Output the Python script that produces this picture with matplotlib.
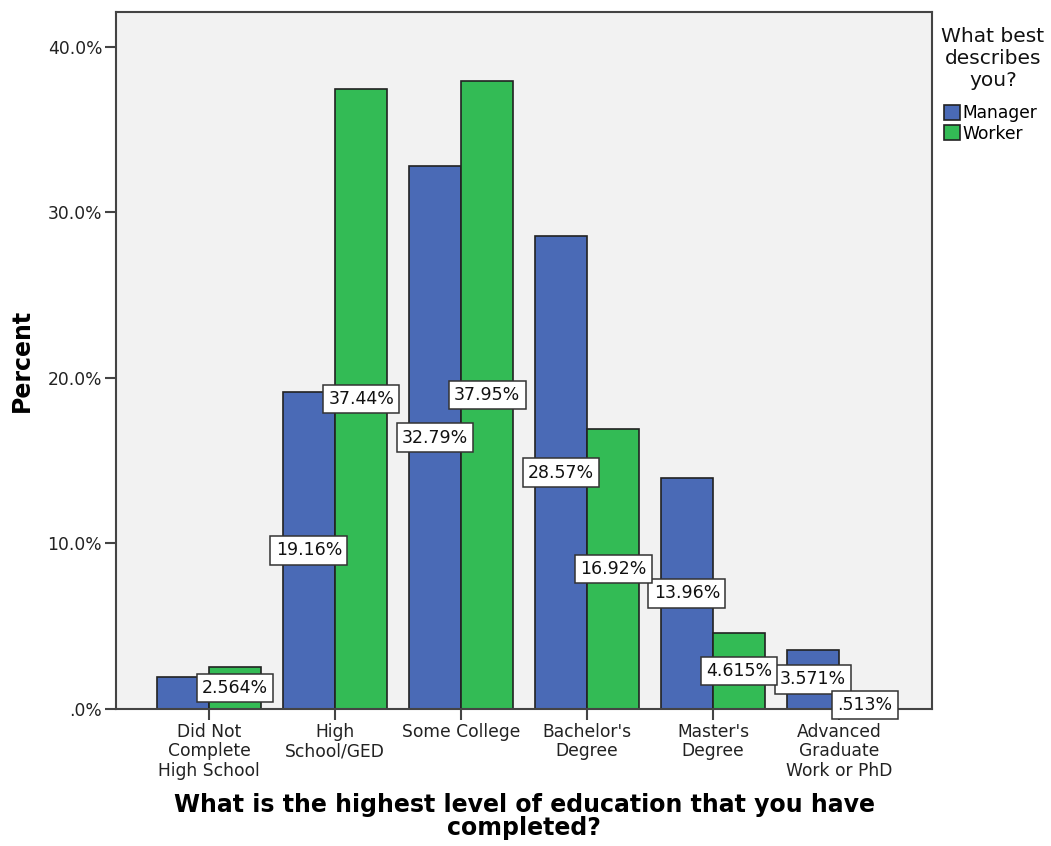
import matplotlib
matplotlib.use("Agg")
import matplotlib.pyplot as plt
import numpy as np
from matplotlib.patches import Patch

# данные
categories = ["Did Not\nComplete\nHigh School", "High\nSchool/GED", "Some College",
              "Bachelor's\nDegree", "Master's\nDegree", "Advanced\nGraduate\nWork or PhD"]
manager = [1.949, 19.16, 32.79, 28.57, 13.96, 3.571]
worker = [2.564, 37.44, 37.95, 16.92, 4.615, 0.513]
# подпись первого столбца Manager в оригинале скрыта
show_manager = [False, True, True, True, True, True]
show_worker = [True, True, True, True, True, True]

y_ticks = [0, 10, 20, 30, 40]
y_ticklabels = [".0%", "10.0%", "20.0%", "30.0%", "40.0%"]

blue = "#4A6AB6"
green = "#33BB55"
edge = "#222222"
axis_col = "#444444"


def fmt(v):
    s = f"{v:.4g}"
    if s.startswith("0."):
        s = s[1:]
    return s + "%"


fig = plt.figure(figsize=(10.51, 8.46), dpi=100)
ax = fig.add_axes([0.1104, 0.1619, 0.7764, 0.8239])
ax.set_facecolor("#F2F2F2")

x = np.arange(len(categories))
w = 0.415
ax.bar(x - w / 2, manager, w, color=blue, edgecolor=edge, linewidth=1.2, zorder=2)
ax.bar(x + w / 2, worker, w, color=green, edgecolor=edge, linewidth=1.2, zorder=2)

box = dict(boxstyle="square,pad=0.3", fc="white", ec="#333333", lw=1.1)
for xs, vals, show in [(x - w / 2, manager, show_manager), (x + w / 2, worker, show_worker)]:
    for xi, v, s in zip(xs, vals, show):
        if not s:
            continue
        ax.text(xi, v / 2, fmt(v), ha="center", va="center", fontsize=12.5,
                color="#111111", bbox=box, zorder=5, clip_on=False)

ax.set_xlim(-0.738, len(categories) - 1 + 0.738)
ax.set_ylim(0, 42.1)
ax.set_yticks(y_ticks)
ax.set_yticklabels(y_ticklabels)
ax.set_xticks(x)
ax.set_xticklabels(categories)
for lbl in ax.get_xticklabels():
    lbl.set_linespacing(1.1)
ax.tick_params(axis="both", length=8, width=1.5, color=axis_col, labelsize=12.3,
               labelcolor="#222222", pad=2)

for sp in ax.spines.values():
    sp.set_color(axis_col)
    sp.set_linewidth(1.5)

fig.text(0.021, 0.5745, "Percent", rotation=90, ha="center", va="center",
         fontsize=17, fontweight="bold")
fig.text(0.4986, 0.0349,
         "What is the highest level of education that you have\ncompleted?",
         ha="center", va="center", fontsize=17, fontweight="bold", linespacing=0.9)

# легенда
fig.text(0.9448, 0.968, "What best\ndescribes\nyou?", ha="center", va="top",
         fontsize=14.5, linespacing=1.2, color="#111111")
handles = [Patch(fc=blue, ec=edge, lw=1.2), Patch(fc=green, ec=edge, lw=1.2)]
fig.legend(handles, ["Manager", "Worker"], loc="upper left",
           bbox_to_anchor=(0.898, 0.877), frameon=False, fontsize=12.3,
           handlelength=0.95, handleheight=0.95, handletextpad=0.15,
           labelspacing=0.15, borderpad=0, borderaxespad=0)

fig.savefig("out.png", dpi=100)
